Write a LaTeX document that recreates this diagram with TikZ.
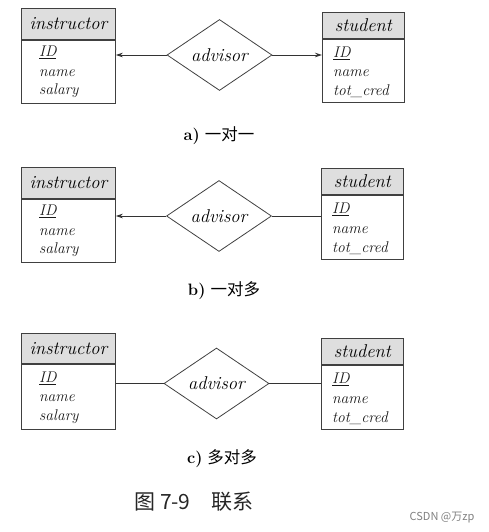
\documentclass[tikz,border=0pt]{standalone}
\usepackage{fontspec}
\newfontfamily\cjk{Noto Sans CJK SC}
\usetikzlibrary{shapes.geometric,arrows.meta}
\begin{document}
\begin{tikzpicture}[x=1pt,y=-1pt,
 conn/.style={draw=black!80, line width=0.8pt},
 hdr/.style={draw=black!75, line width=0.8pt, fill=black!13, anchor=north west, inner sep=0pt, font=\fontsize{18.5}{20}\selectfont\itshape, text=black},
 bodybox/.style={draw=black!75, line width=0.8pt, anchor=north west, inner sep=0pt},
 attr/.style={anchor=base west, inner sep=0pt, font=\fontsize{15.5}{18}\selectfont\itshape, text=black!90},
 rel/.style={diamond, draw=black!75, line width=0.8pt, aspect=1.5, inner sep=0pt, minimum width=105pt, minimum height=71pt, font=\fontsize{18.5}{20}\selectfont\itshape, text=black},
 arr/.style={conn, -{Stealth[length=7pt,width=4.5pt]}},
 captxt/.style={font=\fontsize{16.5}{18}\selectfont, inner sep=0pt, text=black}
]
\useasboundingbox (0,0) rectangle (488,532);

% ---------- a) ----------
\node[hdr, minimum width=94pt, minimum height=31pt] (iAh) at (21,8) {instructor};
\node[bodybox, minimum width=94pt, minimum height=63pt] (iAb) at (iAh.south west) {};
\node[attr] (iA1) at ([xshift=18pt,yshift=-17pt]iAb.north west) {\underline{ID}};
\node[attr] (iA2) at ([xshift=18pt,yshift=-37pt]iAb.north west) {name};
\node[attr] (iA3) at ([xshift=18pt,yshift=-55pt]iAb.north west) {salary};

\node[hdr, minimum width=82pt, minimum height=26pt] (sAh) at (322,12) {student};
\node[bodybox, minimum width=82pt, minimum height=63pt] (sAb) at (sAh.south west) {};
\node[attr] (sA1) at ([xshift=11pt,yshift=-19pt]sAb.north west) {\underline{ID}};
\node[attr] (sA2) at ([xshift=11pt,yshift=-38pt]sAb.north west) {name};
\node[attr] (sA3) at ([xshift=11pt,yshift=-57pt]sAb.north west) {tot\_cred};

\node[rel] (dA) at (219.5,55) {advisor};
\draw[arr] (dA.west) -- (dA.west -| iAb.east);
\draw[arr] (dA.east) -- (dA.east -| sAb.west);
\node[captxt] (capA) at (219,136) {\textbf{a)} {\cjk 一对一}};

% ---------- b) ----------
\node[hdr, minimum width=94pt, minimum height=31pt] (iBh) at (21,167) {instructor};
\node[bodybox, minimum width=94pt, minimum height=63pt] (iBb) at (iBh.south west) {};
\node[attr] (iB1) at ([xshift=18pt,yshift=-17pt]iBb.north west) {\underline{ID}};
\node[attr] (iB2) at ([xshift=18pt,yshift=-37pt]iBb.north west) {name};
\node[attr] (iB3) at ([xshift=18pt,yshift=-55pt]iBb.north west) {salary};

\node[hdr, minimum width=82pt, minimum height=26pt] (sBh) at (321,168) {student};
\node[bodybox, minimum width=82pt, minimum height=64pt] (sBb) at (sBh.south west) {};
\node[attr] (sB1) at ([xshift=11pt,yshift=-19pt]sBb.north west) {\underline{ID}};
\node[attr] (sB2) at ([xshift=11pt,yshift=-39pt]sBb.north west) {name};
\node[attr] (sB3) at ([xshift=11pt,yshift=-58pt]sBb.north west) {tot\_cred};

\node[rel] (dB) at (219,216) {advisor};
\draw[arr] (dB.west) -- (dB.west -| iBb.east);
\draw[conn] (dB.east) -- (dB.east -| sBb.west);
\node[captxt] (capB) at (224,291) {\textbf{b)} {\cjk 一对多}};

% ---------- c) ----------
\node[hdr, minimum width=94pt, minimum height=30pt] (iCh) at (21,333) {instructor};
\node[bodybox, minimum width=94pt, minimum height=65pt] (iCb) at (iCh.south west) {};
\node[attr] (iC1) at ([xshift=18pt,yshift=-19pt]iCb.north west) {\underline{ID}};
\node[attr] (iC2) at ([xshift=18pt,yshift=-38pt]iCb.north west) {name};
\node[attr] (iC3) at ([xshift=18pt,yshift=-57pt]iCb.north west) {salary};

\node[hdr, minimum width=82pt, minimum height=26pt] (sCh) at (321,338) {student};
\node[bodybox, minimum width=82pt, minimum height=64pt] (sCb) at (sCh.south west) {};
\node[attr] (sC1) at ([xshift=11pt,yshift=-19pt]sCb.north west) {\underline{ID}};
\node[attr] (sC2) at ([xshift=11pt,yshift=-39pt]sCb.north west) {name};
\node[attr] (sC3) at ([xshift=11pt,yshift=-58pt]sCb.north west) {tot\_cred};

\node[rel] (dC) at (216.5,383.5) {advisor};
\draw[conn] (dC.west) -- (dC.west -| iCb.east);
\draw[conn] (dC.east) -- (dC.east -| sCb.west);
\node[captxt] (capC) at (222,459) {\textbf{c)} {\cjk 多对多}};

% ---------- figure caption ----------
\node[inner sep=0pt, font=\cjk\fontsize{21}{24}\selectfont, text=black!85] (fig) at (194,502) {图 7-9\quad 联系};
\node[inner sep=0pt, font=\cjk\fontsize{11}{13}\selectfont, text=black!50] (wm) at (442,518) {CSDN @万zp};
\end{tikzpicture}
\end{document}
